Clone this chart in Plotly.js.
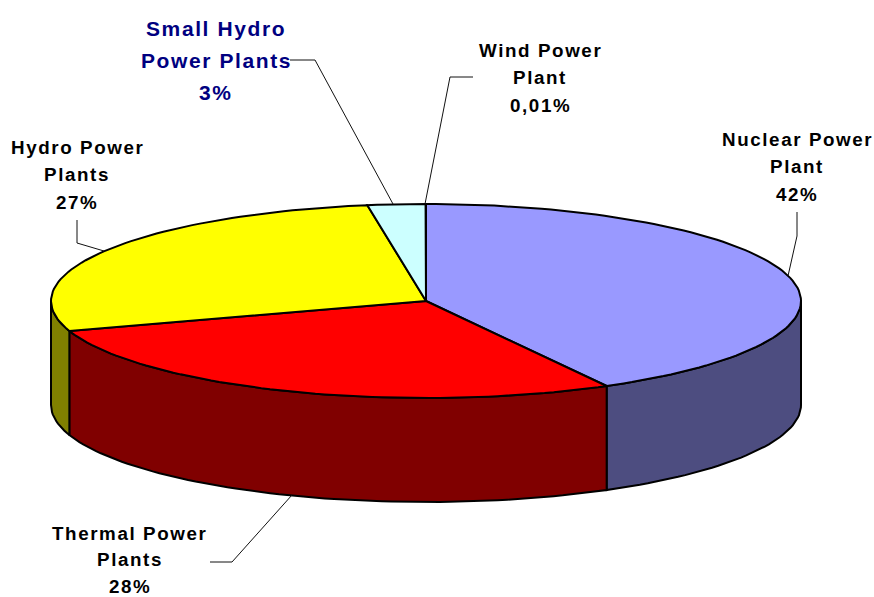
<!DOCTYPE html>
<html>
<head>
<meta charset="utf-8">
<script src="https://cdn.plot.ly/plotly-3.0.0.min.js"></script>
<style>
html,body{margin:0;padding:0;background:#fff}
.annotation-text{letter-spacing:1.6px}
</style>
</head>
<body>
<div id="chart" style="width:874px;height:597px"></div>
<script>
// Data
var categories = ["Nuclear Power Plant","Thermal Power Plants","Hydro Power Plants","Small Hydro Power Plants","Wind Power Plant"];
var shares = [42, 28, 27.5, 2.49, 0.01];
var shareLabels = ["42%","28%","27%","3%","0,01%"];
var labelLines = [["Nuclear Power","Plant"],["Thermal Power","Plants"],["Hydro Power","Plants"],["Small Hydro","Power Plants"],["Wind Power","Plant"]];
var topColors = ["#9999FF","#FF0000","#FFFF00","#CCFFFF","#CCFFCC"];
var wallColors = ["#4D4D80","#800000","#808000","#668080","#668066"];
var labelColors = ["#000000","#000000","#000000","#000080","#000000"];

// Layout of the drawing (pixels of the canvas)
var cx = 426, cy = 301, rx = 375, ry = 97, depth = 104;
var labelCenters = [[797,139],[129.5,533],[77,147],[216,28],[540,50]];
var lineSteps = [27.6,26.5,27.6,32,27.6];
var labelSizes = [18.8,18.8,18.8,21,18.8];
var leaders = [
  {x:[797,797,788], y:[212,236,276]},
  {x:[210,232,292], y:[562,562,495]},
  {x:[77,77,104], y:[220,243,251]},
  {x:[290,315,393], y:[60,60,204]},
  {x:[473,450,425], y:[77,77,204]}
];

function pt(deg, dy){
  var t = deg*Math.PI/180;
  return [cx + rx*Math.sin(t), cy - ry*Math.cos(t) + dy];
}
function arc(a, b, dy){
  var out = [], n = Math.max(2, Math.ceil(Math.abs(b-a)/1.5));
  for (var i=0;i<=n;i++) out.push(pt(a+(b-a)*i/n, dy));
  return out;
}
function poly(points, fill, name){
  return {type:"scatter", mode:"lines", x:points.map(function(p){return p[0];}), y:points.map(function(p){return p[1];}),
    fill:"toself", fillcolor:fill, line:{color:"#000",width:2,shape:"linear"}, hoverinfo:"skip", name:name, showlegend:false};
}

var total = shares.reduce(function(a,b){return a+b;},0);
var traces = [], tops = [], acc = 0;
shares.forEach(function(v,i){
  var a = acc/total*360, b = (acc+v)/total*360;
  acc += v;
  var wa = Math.max(a,90), wb = Math.min(b,270);
  if (wb > wa) {
    traces.push(poly(arc(wa,wb,0).concat(arc(wb,wa,depth)).concat([pt(wa,0)]), wallColors[i], categories[i]+" side"));
  }
  tops.push(poly([[cx,cy]].concat(arc(a,b,0)).concat([[cx,cy]]), topColors[i], categories[i]));
});
traces = traces.concat(tops);

leaders.forEach(function(l,i){
  traces.push({type:"scatter",mode:"lines",x:l.x,y:l.y,line:{color:"#111",width:1},hoverinfo:"skip",showlegend:false,name:categories[i]+" leader"});
});

var annotations = [];
categories.forEach(function(c,i){
  labelLines[i].concat([shareLabels[i]]).forEach(function(txt,j){
    annotations.push({x:labelCenters[i][0], y:labelCenters[i][1]+j*lineSteps[i], xref:"x", yref:"y",
      text:"<b>"+txt+"</b>", showarrow:false, xanchor:"center", yanchor:"middle",
      font:{family:"Liberation Sans, Arial, sans-serif", size:labelSizes[i], color:labelColors[i]}});
  });
});

Plotly.newPlot("chart", traces, {
  width:874, height:597, margin:{l:0,r:0,t:0,b:0},
  paper_bgcolor:"#fff", plot_bgcolor:"#fff", showlegend:false,
  xaxis:{range:[0,874],visible:false,fixedrange:true},
  yaxis:{range:[597,0],visible:false,fixedrange:true},
  annotations:annotations
}, {displayModeBar:false, staticPlot:true});
</script>
</body>
</html>
